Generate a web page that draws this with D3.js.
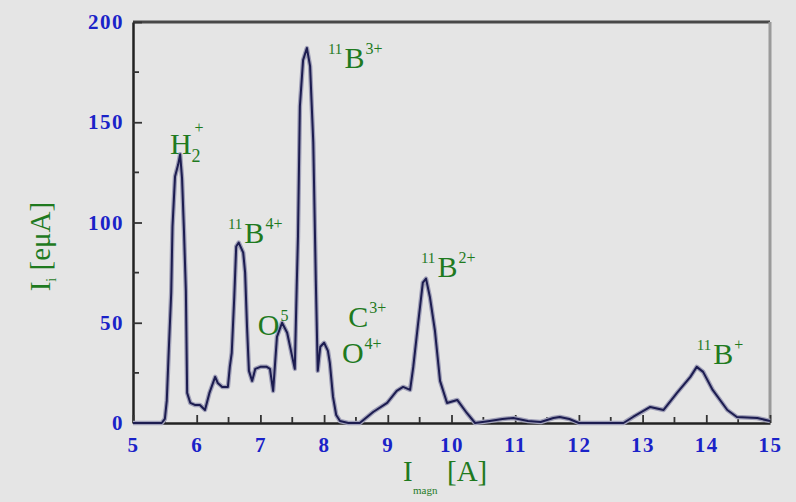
<!DOCTYPE html>
<html>
<head>
<meta charset="UTF-8">
<title>Ion spectrum</title>
<style>
body { margin: 0; background: #e5e5e5; }
svg { display: block; }
</style>
</head>
<body>
<div id="chart"></div>
<script src="https://cdnjs.cloudflare.com/ajax/libs/d3/7.8.2/d3.min.js"></script>
<script>
// magnet current [A]
var magCurrent = [5.0, 5.45, 5.50, 5.53, 5.56, 5.60, 5.62, 5.66, 5.71, 5.74, 5.77, 5.80, 5.83, 5.85, 5.90, 5.97,
  6.05, 6.13, 6.20, 6.29, 6.33, 6.40, 6.49, 6.52, 6.55, 6.59, 6.62, 6.66, 6.73, 6.76, 6.79, 6.82, 6.87, 6.92,
  7.0, 7.1, 7.15, 7.2, 7.26, 7.34, 7.42, 7.5, 7.54, 7.57, 7.59, 7.62, 7.67, 7.73, 7.78, 7.83, 7.87, 7.90, 7.94,
  8.0, 8.06, 8.09, 8.14, 8.19, 8.25, 8.38, 8.56, 8.77, 8.99, 9.14, 9.24, 9.35, 9.40, 9.47, 9.55, 9.60, 9.66,
  9.74, 9.82, 9.93, 10.09, 10.24, 10.37, 10.6, 10.8, 10.97, 11.2, 11.4, 11.6, 11.7, 11.85, 12.0, 12.7, 12.85,
  13.12, 13.33, 13.54, 13.75, 13.85, 13.95, 14.1, 14.33, 14.48, 14.8, 15.0];
// ion current [euA]
var ionCurrent = [0, 0, 2, 11, 35, 65, 98, 123, 129, 134, 122, 96, 66, 15, 10, 9,
  9, 6.5, 15, 23, 20, 18, 18, 28, 35, 63, 88, 90, 85, 75, 48, 26, 21, 27,
  28, 28, 27, 16, 43, 50, 45, 33, 27, 68, 93, 158, 181, 187, 178, 140, 71, 26, 38,
  40, 36, 30, 13, 4, 1, 0, 0, 5.5, 10, 16, 18, 16.5, 28, 48, 70, 72, 63,
  46, 21, 10, 11.5, 5, 0, 1, 2, 2.5, 1, 0.5, 2.5, 3, 2, 0, 0, 3,
  8, 6.5, 15, 23, 28, 25.5, 16.5, 6.5, 3, 2.5, 1];

var xTicks = [5, 6, 7, 8, 9, 10, 11, 12, 13, 14, 15];
var yTicks = [0, 50, 100, 150, 200];

// peak labels: pre-superscript, symbol, subscript, superscript
var peakNames = [
  {pre: "", sym: "H", sub: "2", sup: "+", x: 5.58, y: 134},
  {pre: "11", sym: "B", sub: "", sup: "3+", x: 8.06, y: 177},
  {pre: "11", sym: "B", sub: "", sup: "4+", x: 6.49, y: 90},
  {pre: "", sym: "O", sub: "", sup: "5", x: 6.96, y: 44},
  {pre: "", sym: "C", sub: "", sup: "3+", x: 8.38, y: 48},
  {pre: "", sym: "O", sub: "", sup: "4+", x: 8.28, y: 30},
  {pre: "11", sym: "B", sub: "", sup: "2+", x: 9.52, y: 73},
  {pre: "11", sym: "B", sub: "", sup: "+", x: 13.85, y: 29.4}
];

var W = 796, H = 502;
var margin = {left: 133, top: 22, right: 26, bottom: 79};
var w = W - margin.left - margin.right, h = H - margin.top - margin.bottom;

var svg = d3.select("#chart").append("svg")
  .attr("width", W).attr("height", H);
svg.append("rect").attr("width", W).attr("height", H).attr("fill", "#e5e5e5");

var g = svg.append("g").attr("transform", "translate(" + margin.left + "," + margin.top + ")");

var x = d3.scaleLinear().domain([5, 15]).range([0, w]);
var y = d3.scaleLinear().domain([0, 200]).range([h, 0]);

var serif = "'Liberation Serif', 'DejaVu Serif', serif";

// frame: top and right
g.append("line").attr("x1", 0).attr("x2", w).attr("y1", 0).attr("y2", 0)
  .attr("stroke", "#484848").attr("stroke-width", 3);
g.append("line").attr("x1", w).attr("x2", w).attr("y1", 0).attr("y2", h)
  .attr("stroke", "#9a9a9a").attr("stroke-width", 3);

var yAxis = g.append("g")
  .call(d3.axisLeft(y).tickValues(yTicks).tickSizeInner(-9).tickSizeOuter(0).tickPadding(9));
var xAxis = g.append("g").attr("transform", "translate(0," + h + ")")
  .call(d3.axisBottom(x).tickValues(xTicks).tickSizeInner(-8).tickSizeOuter(0).tickPadding(14));

[yAxis, xAxis].forEach(function(a) {
  a.select(".domain").attr("stroke", "#222").attr("stroke-width", 2.5);
  a.selectAll(".tick line").attr("stroke", "#333").attr("stroke-width", 1.8);
  a.selectAll(".tick text")
    .attr("fill", "#1a22c8")
    .style("font-family", serif)
    .style("font-weight", "bold")
    .style("font-size", "21px")
    .style("letter-spacing", "1.5px");
});

// minor ticks
g.selectAll(".ymin").data(d3.range(25, 200, 50)).enter().append("line")
  .attr("x1", 0).attr("x2", 6).attr("y1", d => y(d)).attr("y2", d => y(d))
  .attr("stroke", "#333").attr("stroke-width", 1.8);
g.selectAll(".xmin").data(d3.range(5.5, 15, 1)).enter().append("line")
  .attr("x1", d => x(d)).attr("x2", d => x(d)).attr("y1", h).attr("y2", h - 6)
  .attr("stroke", "#333").attr("stroke-width", 1.8);

// spectrum
var pts = magCurrent.map((m, i) => [m, ionCurrent[i]]);
var line = d3.line().x(d => x(d[0])).y(d => y(d[1]));
g.append("path").datum(pts).attr("d", line)
  .attr("fill", "none").attr("stroke", "#a0a0b8").attr("stroke-width", 4.5).attr("stroke-linejoin", "round");
g.append("path").datum(pts).attr("d", line)
  .attr("fill", "none").attr("stroke", "#1c1c50").attr("stroke-width", 2).attr("stroke-linejoin", "round");

// labels
var green = "#1f7a1f";
peakNames.forEach(function(p) {
  var t = g.append("text")
    .attr("x", x(p.x)).attr("y", y(p.y))
    .attr("fill", green)
    .style("font-family", serif)
    .style("font-size", "30px");
  if (p.pre) t.append("tspan").text(p.pre).style("font-size", "15px").attr("dy", -14);
  t.append("tspan").text(p.sym).attr("dy", p.pre ? 14 : 0).attr("dx", p.pre ? 2 : 0);
  if (p.sub) t.append("tspan").text(p.sub).style("font-size", "18px").attr("dy", 8);
  if (p.sup) t.append("tspan").text(p.sup).style("font-size", "16px")
    .attr("dy", p.sub ? -29 : -14).attr("dx", p.sub ? -6 : 1);
});

// axis titles
svg.append("text")
  .attr("transform", "translate(50," + (margin.top + y(88)) + ") rotate(-90)")
  .attr("text-anchor", "middle")
  .attr("fill", green)
  .style("font-family", serif)
  .style("font-size", "29px")
  .call(function(t) {
    t.append("tspan").text("I");
    t.append("tspan").text("i").style("font-size", "14px").attr("dy", 6);
    t.append("tspan").text(" [eμA]").attr("dy", -6);
  });

var xt = svg.append("g").attr("fill", green).style("font-family", serif);
xt.append("text").attr("x", 403).attr("y", 481).style("font-size", "29px").text("I");
xt.append("text").attr("x", 413).attr("y", 494).style("font-size", "11px").text("magn");
xt.append("text").attr("x", 447).attr("y", 481).style("font-size", "29px").text("[A]");
</script>
</body>
</html>
